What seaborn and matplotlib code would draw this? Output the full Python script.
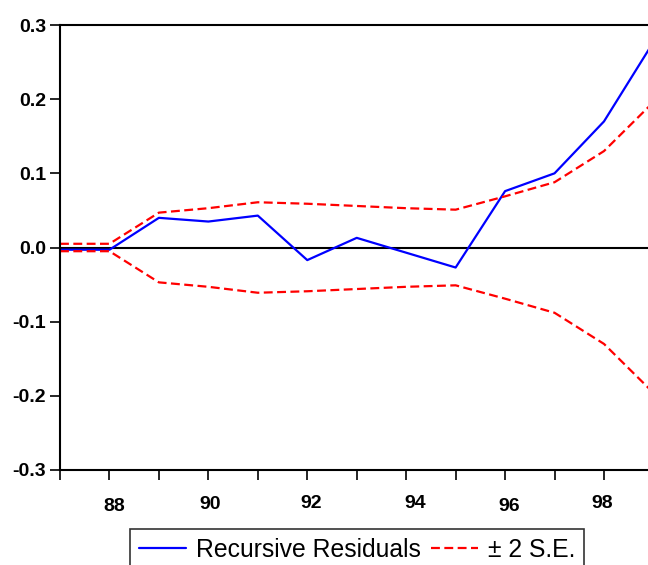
import matplotlib
matplotlib.use("Agg")
import matplotlib.pyplot as plt
import matplotlib.transforms as mtransforms
import seaborn as sns
import numpy as np
import pandas as pd

years = [87, 88, 89, 90, 91, 92, 93, 94, 95, 96, 97, 98, 99]
resid = [-0.003, -0.003, 0.040, 0.035, 0.043, -0.017, 0.013, -0.007, -0.027,
         0.076, 0.100, 0.170, 0.277]
se2 = [0.005, 0.005, 0.047, 0.053, 0.061, 0.059, 0.056, 0.053, 0.051,
       0.069, 0.088, 0.130, 0.196]
xtick_labels = ["", "88", "", "90", "", "92", "", "94", "", "96", "", "98"]
ytick_vals = [-0.3, -0.2, -0.1, 0.0, 0.1, 0.2, 0.3]

upper = list(np.array(se2))
lower = list(-np.array(se2))

sns.set_style("white")
plt.rcParams['font.family'] = ['Liberation Sans', 'DejaVu Sans']
plt.rcParams['text.color'] = 'black'
plt.rcParams['xtick.color'] = 'black'
plt.rcParams['ytick.color'] = 'black'

fig = plt.figure(figsize=(6.48, 5.65), dpi=100)
ax = fig.add_axes([60/648, 1-470/565, 1-60/648, (470-25)/565])

sns.lineplot(x=years, y=resid, ax=ax, color='#0000ff', lw=1.6,
             label='Recursive Residuals')
sns.lineplot(x=years, y=upper, ax=ax, color='#ff0000', lw=1.6,
             linestyle=(0, (4, 2)), label='\u00b1 2 S.E.')
sns.lineplot(x=years, y=lower, ax=ax, color='#ff0000', lw=1.6,
             linestyle=(0, (4, 2)))
ax.axhline(0, color='black', lw=1.5, zorder=1)

ax.set_xlim(87, 98.89)
ax.set_ylim(-0.3, 0.3)
ax.set_xticks(years[:-1])
ax.set_xticklabels(xtick_labels)
ax.set_yticks(ytick_vals)
ax.set_yticklabels([f"{v:.1f}" for v in ytick_vals])

for s in ['left', 'bottom', 'top']:
    ax.spines[s].set_linewidth(1.5)
    ax.spines[s].set_color('black')
ax.spines['right'].set_visible(False)

ax.tick_params(axis='both', which='both', direction='out', length=7,
               width=1.2, color='black', labelcolor='black', labelsize=14)
ax.tick_params(axis='x', pad=11, bottom=True)
ax.tick_params(axis='y', pad=3, left=True)
for lab in ax.get_xticklabels() + ax.get_yticklabels():
    lab.set_fontweight('bold')

# slight irregular placement of the year labels, as in the reference
label_shift = {"88": (5, 3), "90": (2, 1), "92": (4, 0), "94": (9, 0),
               "96": (4, 3), "98": (-2, 0)}
for tick in ax.xaxis.get_major_ticks():
    t = tick.label1
    if t.get_text() in label_shift:
        dx, dy = label_shift[t.get_text()]
        t.set_transform(t.get_transform() + mtransforms.ScaledTranslation(
            dx / 100, -dy / 100, fig.dpi_scale_trans))

ax.get_legend().remove()
h, l = ax.get_legend_handles_labels()
leg = fig.legend(h, l, loc='upper center', bbox_to_anchor=(357/648, 1-529/565),
                 bbox_transform=fig.transFigure, ncol=2, fontsize=17.8,
                 frameon=True, fancybox=False, edgecolor='black',
                 handlelength=1.9, handletextpad=0.4, columnspacing=0.4,
                 borderpad=0.35, borderaxespad=0, labelcolor='black')
leg.get_frame().set_linewidth(1.2)

fig.savefig("out.png", dpi=100)
